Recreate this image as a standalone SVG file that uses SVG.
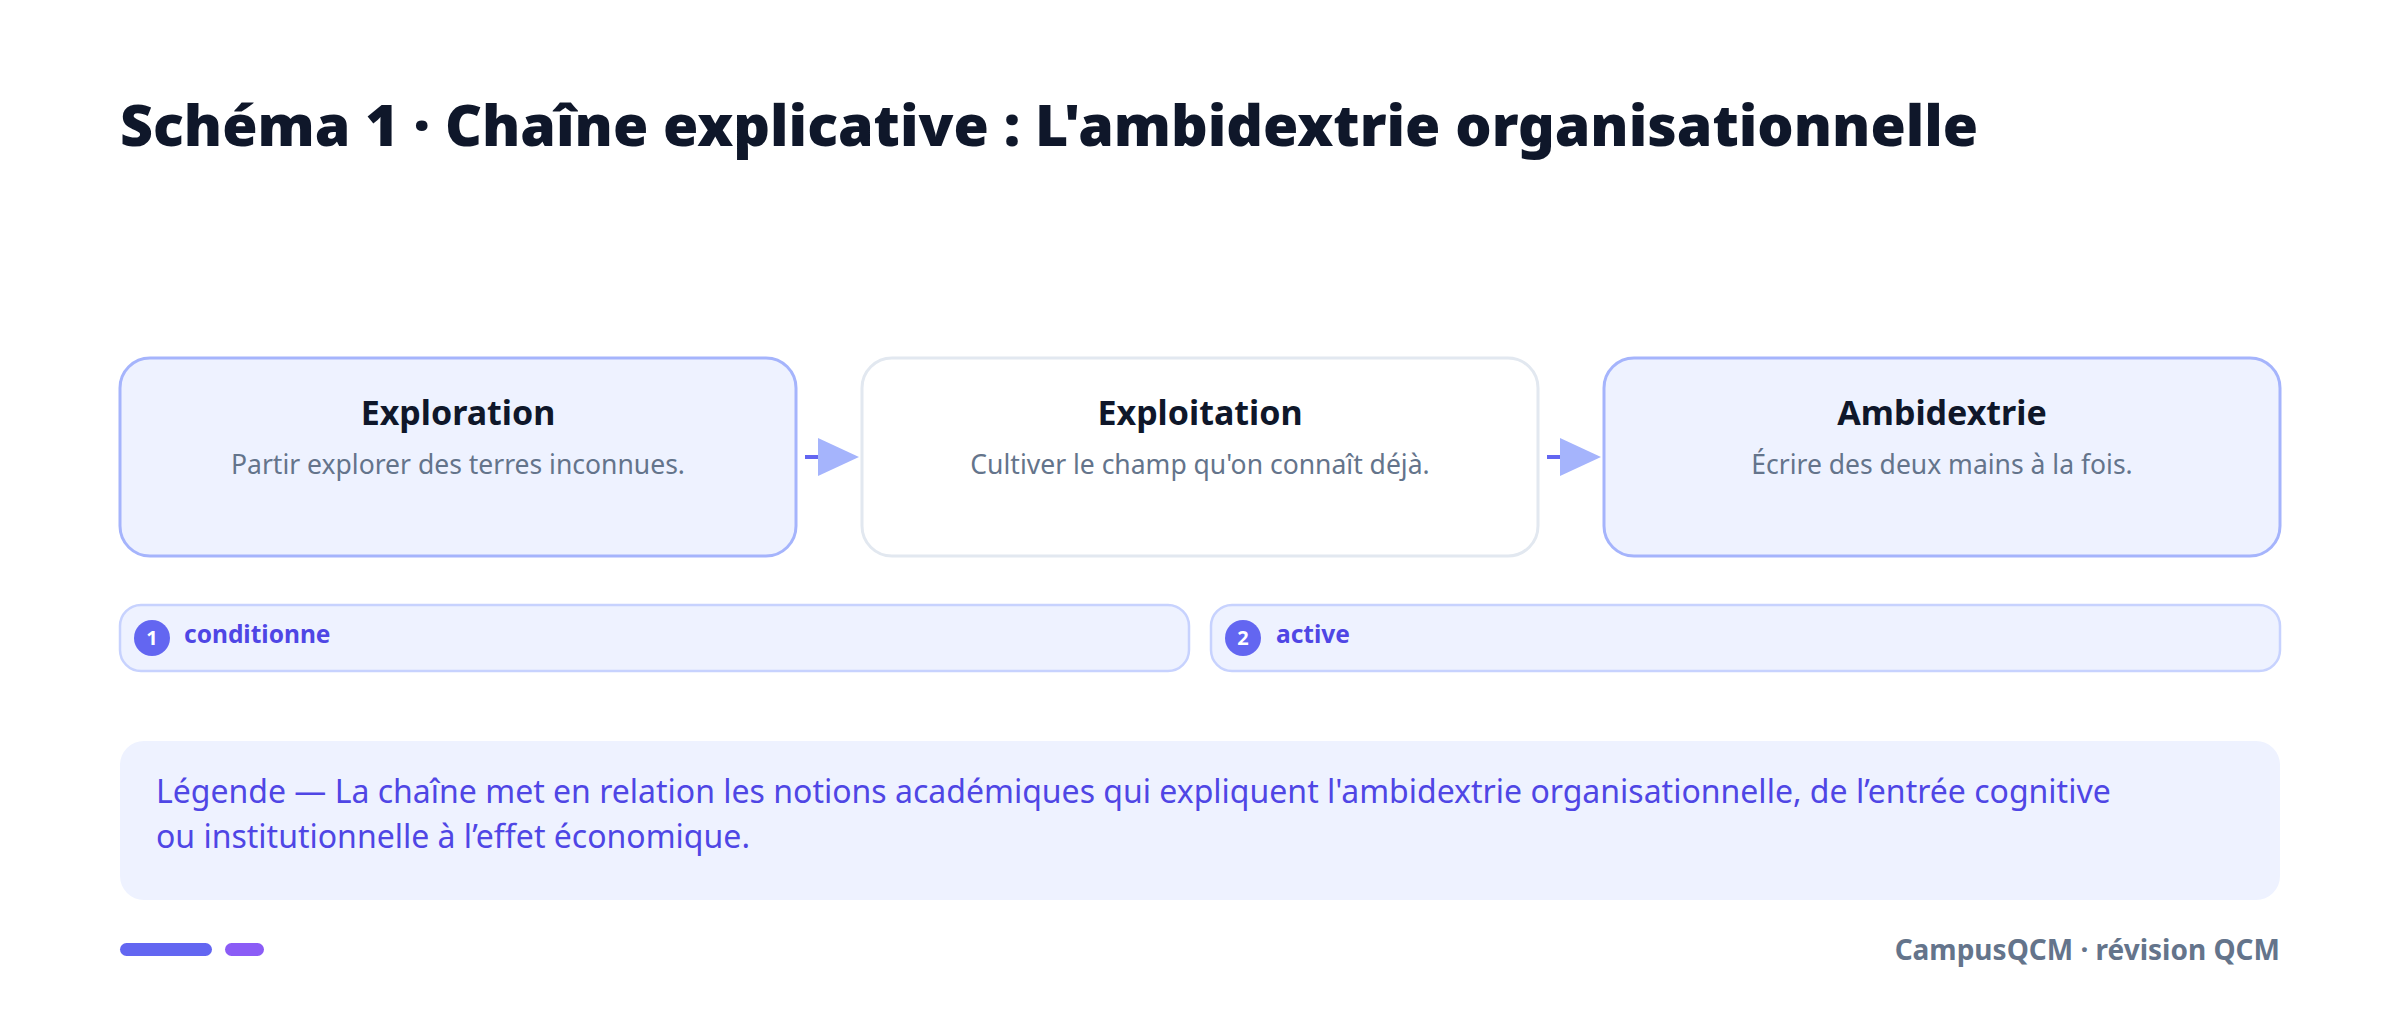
<svg xmlns="http://www.w3.org/2000/svg" width="2400" height="1010" viewBox="0 0 2400 1010">
<defs>
<style>
.title{font-family:"Noto Sans","DejaVu Sans",sans-serif;font-weight:900;font-size:57.2px;fill:#0f172a}
.nt{font-family:"Noto Sans","DejaVu Sans",sans-serif;font-weight:700;font-size:34px;fill:#0f172a;text-anchor:middle}
.ns{font-family:"Noto Sans","DejaVu Sans",sans-serif;font-weight:400;font-size:26.5px;fill:#64748b;text-anchor:middle}
.hl{fill:#eef2ff;stroke:#a5b4fc;stroke-width:3}
.pl{fill:#ffffff;stroke:#e2e8f0;stroke-width:3}
.pill{fill:#eef2ff;stroke:#c7d2fe;stroke-width:2.5}
.badge{fill:#6366f1}
.bn{font-family:"Noto Sans","DejaVu Sans",sans-serif;font-weight:700;font-size:20px;fill:#ffffff;text-anchor:middle}
.pt{font-family:"Noto Sans","DejaVu Sans",sans-serif;font-weight:700;font-size:24.5px;fill:#4f46e5}
.lg{font-family:"Noto Sans","DejaVu Sans",sans-serif;font-weight:400;font-size:32px;fill:#4f46e5}
.ft{font-family:"Noto Sans","DejaVu Sans",sans-serif;font-weight:700;font-size:28px;fill:#64748b;text-anchor:end}
.cl{stroke:#6366f1;stroke-width:4;fill:none}
</style>
<marker id="ah" viewBox="0 0 41 38" refX="0" refY="19" markerWidth="41" markerHeight="38" markerUnits="userSpaceOnUse" orient="auto">
<path d="M0,0 L41,19 L0,38 Z" fill="#a5b4fc"/>
</marker>
</defs>
<rect width="2400" height="1010" fill="#ffffff"/>
<text class="title" x="120" y="146">Schéma 1 · Chaîne explicative : L'ambidextrie organisationnelle</text>
<g id="connectors">
<line class="cl" x1="805" y1="457" x2="818" y2="457" marker-end="url(#ah)"/>
<line class="cl" x1="1547" y1="457" x2="1560" y2="457" marker-end="url(#ah)"/>
</g>
<g id="node-exploration">
<rect class="hl" x="120" y="358" width="676" height="198" rx="30"/>
<text class="nt" x="458" y="425">Exploration</text>
<text class="ns" x="458" y="474">Partir explorer des terres inconnues.</text>
</g>
<g id="node-exploitation">
<rect class="pl" x="862" y="358" width="676" height="198" rx="30"/>
<text class="nt" x="1200" y="425">Exploitation</text>
<text class="ns" x="1200" y="474">Cultiver le champ qu'on connaît déjà.</text>
</g>
<g id="node-ambidextrie">
<rect class="hl" x="1604" y="358" width="676" height="198" rx="30"/>
<text class="nt" x="1942" y="425">Ambidextrie</text>
<text class="ns" x="1942" y="474">Écrire des deux mains à la fois.</text>
</g>
<g id="pill-1">
<rect class="pill" x="120" y="605" width="1069" height="66" rx="21"/>
<circle class="badge" cx="152" cy="638" r="18"/>
<text class="bn" x="152" y="645">1</text>
<text class="pt" x="184" y="643">conditionne</text>
</g>
<g id="pill-2">
<rect class="pill" x="1211" y="605" width="1069" height="66" rx="21"/>
<circle class="badge" cx="1243" cy="638" r="18"/>
<text class="bn" x="1243" y="645">2</text>
<text class="pt" x="1276" y="643">active</text>
</g>
<g id="legend">
<rect x="120" y="741" width="2160" height="159" rx="24" fill="#eef2ff"/>
<text class="lg" x="156" y="803">Légende — La chaîne met en relation les notions académiques qui expliquent l'ambidextrie organisationnelle, de l’entrée cognitive</text>
<text class="lg" x="156" y="848">ou institutionnelle à l’effet économique.</text>
</g>
<g id="footer">
<rect x="120" y="943" width="92" height="13" rx="6.5" fill="#6366f1"/>
<rect x="225" y="943" width="39" height="13" rx="6.5" fill="#8b5cf6"/>
<text class="ft" x="2280" y="960">CampusQCM · révision QCM</text>
</g>
</svg>
